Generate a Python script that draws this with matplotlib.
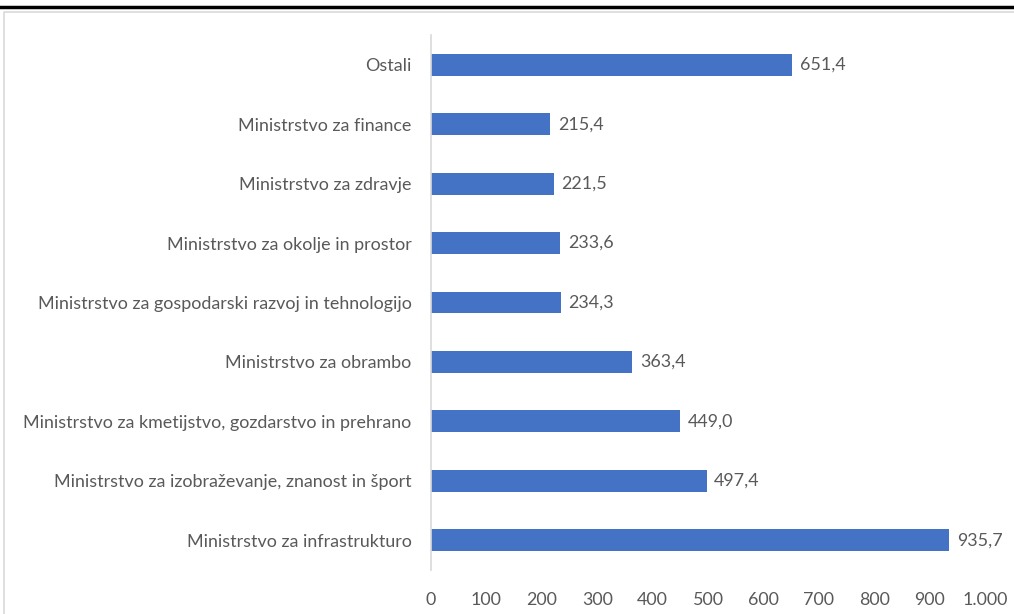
import matplotlib.pyplot as plt
from matplotlib.lines import Line2D

categories = ["Ministrstvo za infrastrukturo",
              "Ministrstvo za izobraževanje, znanost in šport",
              "Ministrstvo za kmetijstvo, gozdarstvo in prehrano",
              "Ministrstvo za obrambo",
              "Ministrstvo za gospodarski razvoj in tehnologijo",
              "Ministrstvo za okolje in prostor",
              "Ministrstvo za zdravje",
              "Ministrstvo za finance",
              "Ostali"]
values = [935.7, 497.4, 449.0, 363.4, 234.3, 233.6, 221.5, 215.4, 651.4]
xticks = [0, 100, 200, 300, 400, 500, 600, 700, 800, 900, 1000]
xtick_labels = ["0", "100", "200", "300", "400", "500", "600", "700", "800", "900", "1.000"]

plt.rcParams['font.family'] = ['Lato', 'DejaVu Sans']
txt = "#595959"
fs = 12.9

fig = plt.figure(figsize=(10.14, 6.14), dpi=100)
ax = fig.add_axes([431/1014, 44/614, 554/1014, 535/614])

ypos = range(len(categories))
ax.barh(ypos, values, height=0.37, color="#4472C4")
for y, v in zip(ypos, values):
    ax.text(v + 14, y, f"{v:.1f}".replace(".", ","), va="center", ha="left",
            fontsize=fs, color=txt)

ax.set_xlim(0, 1000)
ax.set_ylim(-0.5, len(categories) - 0.5)
ax.set_yticks(list(ypos))
ax.set_yticklabels(categories, fontsize=fs, color=txt)
ax.set_xticks(xticks)
ax.set_xticklabels(xtick_labels, fontsize=fs, color=txt)
ax.tick_params(length=0)
ax.tick_params(axis="y", pad=14)
ax.tick_params(axis="x", pad=16)
for s in ["top", "right", "bottom"]:
    ax.spines[s].set_visible(False)
ax.spines["left"].set_color("#d9d9d9")
ax.spines["left"].set_linewidth(1.2)

# frame lines around the chart
fig.add_artist(Line2D([0, 1], [1 - 7/614, 1 - 7/614], color="black", lw=2.5,
                      transform=fig.transFigure))
fig.add_artist(Line2D([4/1014, 4/1014, 1], [0, 1 - 12/614, 1 - 12/614], color="#d9d9d9",
                      lw=1.2, transform=fig.transFigure))

fig.savefig("out.png", dpi=100)
